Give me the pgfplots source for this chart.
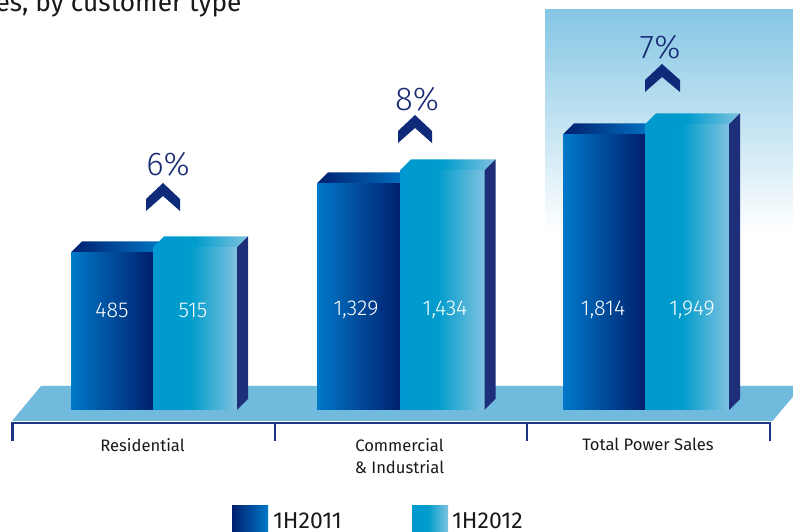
\documentclass[border=0pt]{standalone}
\usepackage{fontspec}
\setmainfont{Fira Sans}
\newfontfamily\firalight{Fira Sans Light}
\usepackage{pgfplots}
\pgfplotsset{compat=1.18}

\definecolor{navy}{HTML}{1A2B75}
\definecolor{chev}{HTML}{0F2A78}
\definecolor{sidec}{HTML}{1D2E7B}
\definecolor{floorc}{HTML}{70BBDD}
\definecolor{linec}{HTML}{1C3585}
\definecolor{panelc}{HTML}{85C6E4}
\definecolor{darkA}{HTML}{001F6E}
\definecolor{blueA}{HTML}{0078C8}
\definecolor{blueB}{HTML}{0098CF}
\definecolor{midB}{HTML}{009CCC}
\definecolor{paleB}{HTML}{7FC2DF}

\pgfdeclarehorizontalshading{frontA}{100bp}{color(0bp)=(blueA); color(25bp)=(blueA); color(75bp)=(darkA); color(100bp)=(darkA)}
\pgfdeclarehorizontalshading{topA}{100bp}{color(0bp)=(darkA); color(25bp)=(darkA); color(75bp)=(blueA); color(100bp)=(blueA)}
\pgfdeclarehorizontalshading{frontB}{100bp}{color(0bp)=(blueB); color(25bp)=(blueB); color(47bp)=(midB); color(75bp)=(paleB); color(100bp)=(paleB)}

\begin{document}
\begin{tikzpicture}
\path[use as bounding box, clip] (0,0) rectangle (793pt,532pt);
\begin{axis}[
    scale only axis,
    width=793pt, height=532pt,
    xmin=0, xmax=793,
    ymin=-122, ymax=410,
    axis line style={draw=none},
    major tick length=0pt,
    ytick=\empty,
    xtick={142.5,399.5,648},
    xticklabels={Residential,{Commercial\\\& Industrial},Total Power Sales},
    xticklabel style={align=center, anchor=north, yshift=97pt, text=black!90,
        font=\fontsize{16.6}{22}\selectfont},
    clip=false,
]
% panel behind the total
\addplot[draw=none, top color=panelc, bottom color=white] coordinates {(545,400) (793,400) (793,178) (545,178)} -- cycle;
% floor
\addplot[draw=none, fill=floorc] coordinates {(41,24) (802,24) (772.5,-11) (12,-11)} -- cycle;
% bracket under the floor
\addplot[linec, line width=2.5pt] coordinates {(12.5,-13) (770,-13)};
\addplot[linec, line width=2.5pt] coordinates {(12.5,-12) (12.5,-31)};
\addplot[linec, line width=2.5pt] coordinates {(275,-12) (275,-31)};
\addplot[linec, line width=2.5pt] coordinates {(527,-12) (527,-31)};
\addplot[linec, line width=2.5pt] coordinates {(770,-12) (770,-31)};

% Residential
\addplot[draw=none, shade, shading=topA] coordinates {(71,157.5) (82,168.5) (164,168.5) (153,157.5)} -- cycle;
\addplot[ybar, bar width=82, bar shift=0pt, draw=none, shade, shading=frontA] coordinates {(112,157.5)};
\addplot[draw=none, shade, shading=frontB] coordinates {(153,162.5) (164,173.5) (248,173.5) (237,162.5)} -- cycle;
\addplot[ybar, bar width=84, bar shift=0pt, draw=none, shade, shading=frontB] coordinates {(195,162.5)};
\addplot[draw=none, fill=sidec] coordinates {(237,162.5) (248,173.5) (248,11) (237,0)} -- cycle;

% Commercial & Industrial
\addplot[draw=none, shade, shading=topA] coordinates {(317,226.5) (328,237.5) (411,237.5) (400,226.5)} -- cycle;
\addplot[ybar, bar width=83, bar shift=0pt, draw=none, shade, shading=frontA] coordinates {(358.5,226.5)};
\addplot[draw=none, shade, shading=frontB] coordinates {(400,239.5) (411,250.5) (495.5,250.5) (484.5,239.5)} -- cycle;
\addplot[ybar, bar width=84.5, bar shift=0pt, draw=none, shade, shading=frontB] coordinates {(442.25,239.5)};
\addplot[draw=none, fill=sidec] coordinates {(484.5,239.5) (495.5,250.5) (495.5,11) (484.5,0)} -- cycle;

% Total Power Sales
\addplot[draw=none, shade, shading=topA] coordinates {(563,275.5) (574,286.5) (656,286.5) (645,275.5)} -- cycle;
\addplot[ybar, bar width=82, bar shift=0pt, draw=none, shade, shading=frontA] coordinates {(604,275.5)};
\addplot[draw=none, shade, shading=frontB] coordinates {(645,285.5) (656,296.5) (740,296.5) (729,285.5)} -- cycle;
\addplot[ybar, bar width=84, bar shift=0pt, draw=none, shade, shading=frontB] coordinates {(687,285.5)};
\addplot[draw=none, fill=sidec] coordinates {(729,285.5) (740,296.5) (740,11) (729,0)} -- cycle;

% values printed on the bars
\addplot[only marks, mark=none, point meta=explicit symbolic, nodes near coords,
    nodes near coords style={anchor=center, text=white, font=\firalight\fontsize{21.5}{22}\selectfont}]
    coordinates {(112,100)[485] (193,100)[515] (356,100)[1,329] (445,100)[1,434] (603,100)[1,814] (692,100)[1,949]};

% growth chevrons and percentages
\addplot[draw=none, fill=chev] coordinates {(146,211) (163,227) (180,211) (180,199) (163,214) (146,199)} -- cycle;
\addplot[draw=none, fill=chev] coordinates {(398,279) (415,295) (432,279) (432,267) (415,282) (398,267)} -- cycle;
\addplot[draw=none, fill=chev] coordinates {(645,330) (662,346) (680,330) (680,318) (662,333) (645,318)} -- cycle;
\addplot[only marks, mark=none, point meta=explicit symbolic, nodes near coords,
    nodes near coords style={anchor=center, text=navy, font=\firalight\fontsize{33}{33}\selectfont}]
    coordinates {(168,246)[6\%] (417,311)[8\%] (660,363)[7\%]};

% legend
\addplot[draw=none, shade, shading=topA] coordinates {(232,-96) (268,-96) (268,-130) (232,-130)} -- cycle;
\addplot[draw=none, shade, shading=frontB] coordinates {(412,-96) (448,-96) (448,-130) (412,-130)} -- cycle;
\node[anchor=base west, font=\fontsize{23}{23}\selectfont, text=black!90] at (axis cs:269.5,-118.5) {1H2011};
\node[anchor=base west, font=\fontsize{23}{23}\selectfont, text=black!90] at (axis cs:448.5,-118.5) {1H2012};

% title, cut off by the crop
\node[anchor=base east, font=\fontsize{26.3}{27}\selectfont, text=black!90] at (axis cs:245,398.5) {es, by customer type};
\end{axis}
\end{tikzpicture}
\end{document}
